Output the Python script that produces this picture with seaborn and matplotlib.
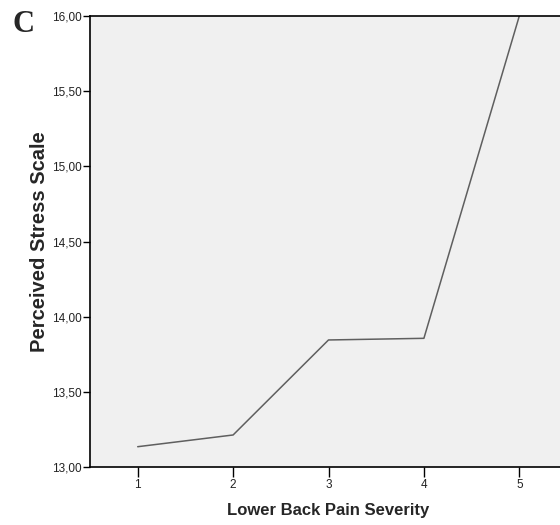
import matplotlib
matplotlib.use("Agg")
import matplotlib.pyplot as plt
from matplotlib.ticker import FuncFormatter
import seaborn as sns
import pandas as pd

severity = [1, 2, 3, 4, 5]
stress = [13.135, 13.213, 13.845, 13.856, 16.0]
y_ticks = [13.0, 13.5, 14.0, 14.5, 15.0, 15.5, 16.0]

df = pd.DataFrame({"Lower Back Pain Severity": severity, "Perceived Stress Scale": stress})

sns.set_theme(style="white")
plt.rcParams["font.family"] = ["Liberation Sans", "DejaVu Sans"]

fig = plt.figure(figsize=(5.6, 5.25), dpi=100)
ax = fig.add_axes([90/560, 58/525, 477/560, 451/525])
ax.set_facecolor("#f0f0f0")
sns.lineplot(data=df, x="Lower Back Pain Severity", y="Perceived Stress Scale",
             ax=ax, color="#5f5f5f", linewidth=1.1, clip_on=True)
ax.set_xlim(0.5, 5.5)
ax.set_ylim(13.0, 16.0)
ax.set_xticks(severity)
ax.set_yticks(y_ticks)
ax.yaxis.set_major_formatter(FuncFormatter(lambda v, p: f"{v:.2f}".replace(".", ",")))
for s in ax.spines.values():
    s.set_color("black")
    s.set_linewidth(1.2)
ax.tick_params(axis="y", which="major", direction="out", length=5, width=1, color="black",
               labelsize=8.5, labelcolor="#222222", pad=1, left=True)
ax.tick_params(axis="x", which="major", direction="out", length=7, width=1, color="black",
               labelsize=8.5, labelcolor="#222222", pad=2, bottom=True)
ax.set_xlabel("Lower Back Pain Severity", fontsize=12, fontweight="bold", labelpad=8)
ax.set_ylabel("Perceived Stress Scale", fontsize=14.5, fontweight="bold", labelpad=2)
fig.text(24/560, 1 - 24/525, "C", fontsize=22, fontweight="bold", family="Liberation Serif",
         ha="center", va="center")
fig.savefig("out.png", dpi=100)
